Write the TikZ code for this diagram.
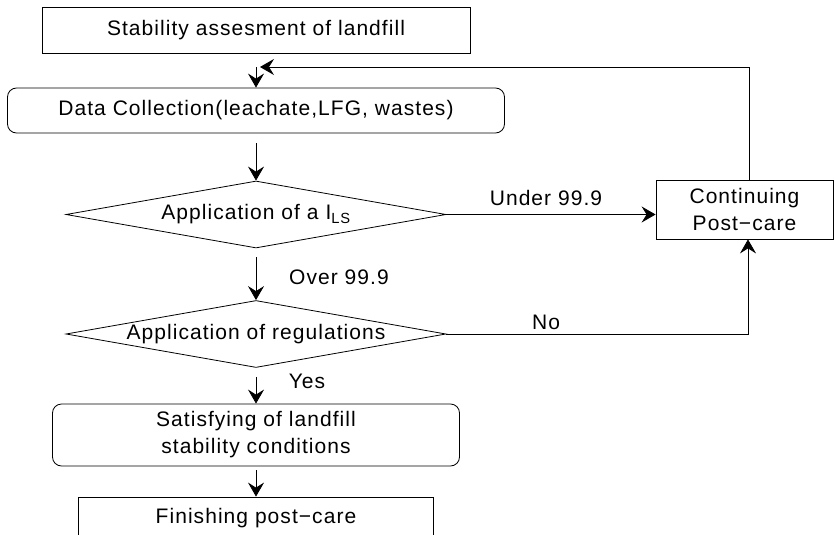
\documentclass[tikz,border=0pt]{standalone}
\usepackage{fontspec}
\setmainfont{Liberation Sans}[LetterSpace=5]
\usetikzlibrary{shapes.geometric,arrows.meta}

\begin{document}
\begin{tikzpicture}[x=1pt, y=-1pt, font=\fontsize{21}{27}\selectfont,
  box/.style={rectangle, draw, line width=0.8pt, inner sep=0pt},
  roundbox/.style={rectangle, rounded corners=9pt, draw, line width=0.8pt, inner sep=0pt},
  decision/.style={diamond, draw, line width=0.8pt, inner sep=0pt, aspect=5.7, minimum width=380pt, minimum height=67pt},
  arr/.style={-{Stealth[length=14pt, width=16pt, inset=5pt]}, line width=0.8pt},
  lbl/.style={inner sep=0pt}]
  \useasboundingbox (0,0) rectangle (835,535);

  % 中央の流れ
  \node[box, minimum width=428pt, minimum height=46pt] (start) at (256,30) {Stability assesment of landfill};
  \node[roundbox, minimum width=497pt, minimum height=45pt] (data) at (256,110.5) {Data Collection(leachate,LFG, wastes)};
  \node[decision] (ils) at (256,214.5) {Application of a I\textsubscript{LS}};
  \node[decision] (reg) at (256,334) {Application of regulations};
  \node[roundbox, align=center, minimum width=407pt, minimum height=62pt] (sat) at (256,435) {Satisfying of landfill\\stability conditions};
  \node[box, minimum width=355pt, minimum height=42pt] (fin) at (256,518) {Finishing post−care};

  % 右側の箱
  \node[box, align=center, minimum width=177pt, minimum height=59pt] (cont) at (744.5,209.5) {Continuing\\Post−care};
  \coordinate (back) at (260,67);

  % エッジ
  \draw[arr, shorten <=14pt] (start) -- (data);
  \draw[arr, shorten <=10pt] (data) -- (ils);
  \draw[arr, shorten <=9pt] (ils) -- (reg);
  \draw[arr, shorten <=9pt] (reg) -- (sat);
  \draw[arr, shorten <=4pt] (sat) -- (fin);
  \draw[arr] (ils.east) -- (ils.east -| cont.west);
  \draw[arr] (reg.east) -| ([xshift=3.5pt]cont.south);
  \draw[arr] ([xshift=4.5pt]cont.north) |- (back);

  % ラベル
  \node[lbl] (under) at (546,198) {Under 99.9};
  \node[lbl] (over) at (339,277) {Over 99.9};
  \node[lbl] (no) at (546,322) {No};
  \node[lbl] (yes) at (307,381) {Yes};
\end{tikzpicture}
\end{document}
